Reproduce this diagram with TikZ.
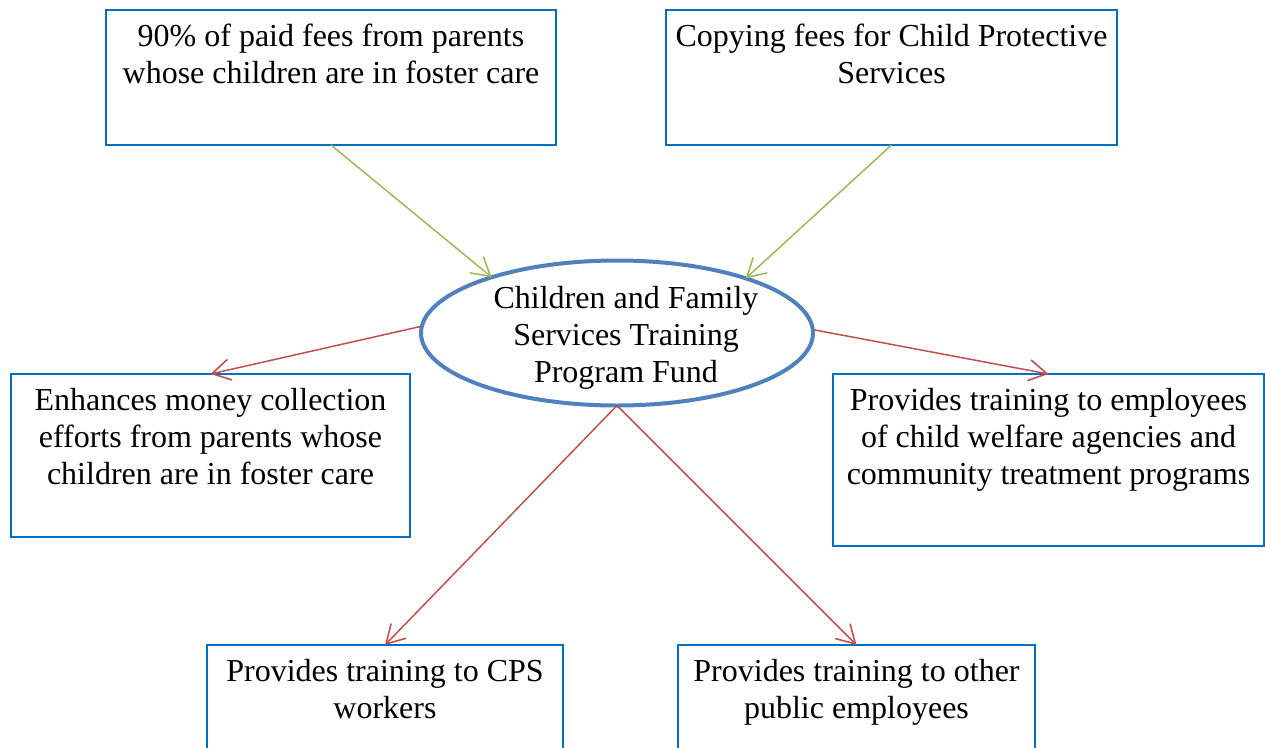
\documentclass[tikz,border=0pt]{standalone}
\usepackage{fontspec}
\setmainfont{Liberation Serif}
\usepackage{tikz}
\usetikzlibrary{shapes.geometric, arrows.meta, positioning, calc}

\definecolor{boxblue}{RGB}{0,112,192}
\definecolor{fundblue}{RGB}{79,129,189}
\definecolor{ingreen}{RGB}{155,187,89}
\definecolor{outred}{RGB}{192,80,77}

\begin{document}
\begin{tikzpicture}[
    x=1pt, y=1pt,
    every node/.style={font=\fontsize{32}{37}\selectfont},
    box/.style={rectangle, draw=boxblue, line width=1.5pt, anchor=north west, inner sep=0pt, outer sep=0pt},
    boxtext/.style={anchor=north, align=center, inner sep=0pt, yshift=-14pt},
    fund/.style={ellipse, draw=fundblue, line width=4pt, minimum width=392pt, minimum height=145pt, inner sep=0pt, outer sep=0pt},
    fundtext/.style={anchor=center, align=center, inner sep=0pt, xshift=9pt, yshift=-5pt},
    feed/.style={-{Straight Barb[length=18pt, width=21pt, line width=1.6pt]}, ingreen, line width=1.5pt},
    use/.style={-{Straight Barb[length=18pt, width=21pt, line width=1.6pt]}, outred, line width=1.5pt},
]
\useasboundingbox (0,0) rectangle (1265,-747);
\begin{scope}
\clip (0,0) rectangle (1265,-747);

% sources
\node[box, minimum width=450pt, minimum height=135pt,
      label={[boxtext]north:90\% of paid fees from parents\\whose children are in foster care}] (fees) at (106,-10) {};
\node[box, minimum width=451pt, minimum height=135pt,
      label={[boxtext]north:Copying fees for Child Protective\\Services}] (copying) at (666,-10) {};

% fund
\node[fund, label={[fundtext]center:Children and Family\\Services Training\\Program Fund}] (fund) at (617,-333) {};

% uses
\node[box, minimum width=399pt, minimum height=163pt,
      label={[boxtext]north:Enhances money collection\\efforts from parents whose\\children are in foster care}] (collect) at (11,-374) {};
\node[box, minimum width=431pt, minimum height=172pt,
      label={[boxtext]north:Provides training to employees\\of child welfare agencies and\\community treatment programs}] (welfare) at (833,-374) {};
\node[box, minimum width=356pt, minimum height=140pt,
      label={[boxtext]north:Provides training to CPS\\workers}] (cps) at (207,-645) {};
\node[box, minimum width=357pt, minimum height=140pt,
      label={[boxtext]north:Provides training to other\\public employees}] (public) at (678,-645) {};

\draw[feed] (fees.south) -- (fund.156.6);
\draw[feed] (copying.south) -- (fund.23.5);

\draw[use] (fund.178.5) -- (collect.north);
\draw[use] (fund.1.5) -- (welfare.north);
\draw[use] (fund.south) -- (cps.north);
\draw[use] (fund.south) -- (public.north);
\end{scope}

\end{tikzpicture}
\end{document}
